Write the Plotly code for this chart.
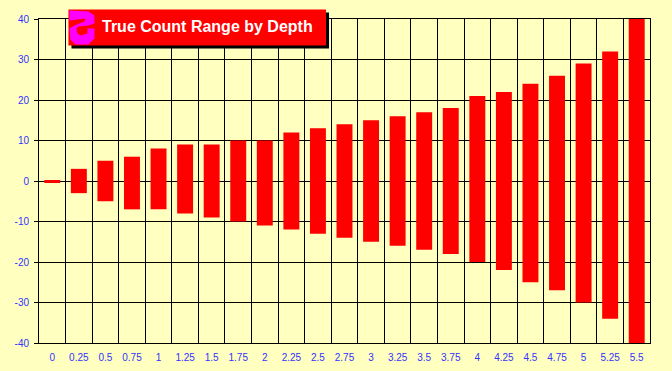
import plotly.graph_objects as go

depths = ["0","0.25","0.5","0.75","1","1.25","1.5","1.75","2","2.25","2.5","2.75","3","3.25","3.5","3.75","4","4.25","4.5","4.75","5","5.25","5.5"]
high = [0.25,3,5,6,8,9,9,10,10,12,13,14,15,16,17,18,21,22,24,26,29,32,40]
low = [-0.5,-3,-5,-7,-7,-8,-9,-10,-11,-12,-13,-14,-15,-16,-17,-18,-20,-22,-25,-27,-30,-34,-40]
y_ticks = [-40,-30,-20,-10,0,10,20,30,40]
y_labels = ["-40","-30","-20","-10","0","10","20","30","40"]
title_text = "True Count Range by Depth"

W, H = 672, 371
L, R, T, B = 38.5, 650.5, 18.5, 343.5
BG = "#FFFFC0"
TXT = "#3333FF"

def px(x): return (x - L) / (R - L)
def py(y): return (B - y) / (B - T)

fig = go.Figure(go.Bar(
    x=depths,
    y=[h - l for h, l in zip(high, low)],
    base=low,
    marker=dict(color="#FF0000", line=dict(width=0)),
    hoverinfo="skip",
))

shapes = [
    dict(type="rect", xref="paper", yref="paper", x0=px(71), x1=px(329), y0=py(12), y1=py(48),
         fillcolor="#000000", line_width=0, layer="above"),
    dict(type="rect", xref="paper", yref="paper", x0=px(68), x1=px(326), y0=py(9), y1=py(45),
         fillcolor="#FF0000", line_width=0, layer="above"),
]
icon = [(69,10),(88,11),(94,15),(94,23),(88,25),(78,26),(76,28),(77,33),(80,35),(87,33),(87,28),(94,28),
        (94,38),(88,44),(75,44),(70,39),(69,28),(74,25),(84,21),(85,18),(69,20)]
path = "M " + " L ".join(f"{px(a)} {py(b)}" for a, b in icon) + " Z"
shapes.append(dict(type="path", xref="paper", yref="paper", path=path, fillcolor="#FF00FF", line_width=0, layer="above"))

fig.update_layout(
    width=W, height=H,
    autosize=False,
    margin=dict(l=L, r=W - R, t=T, b=H - B, pad=0, autoexpand=False),
    paper_bgcolor=BG, plot_bgcolor=BG,
    bargap=0.4,
    showlegend=False,
    font=dict(family="Liberation Sans, Arial, sans-serif", size=10, color=TXT),
    xaxis=dict(type="category", tickson="boundaries", showgrid=True, gridcolor="#000000", gridwidth=1,
               ticks="", showline=True, linecolor="#000000", linewidth=1, mirror=True, layer="below traces",
               tickfont=dict(size=10, color=TXT), ticklen=0, tickangle=0, zeroline=False, ticklabelstandoff=5,
               automargin=False),
    yaxis=dict(range=[-40, 40], tickvals=y_ticks, ticktext=y_labels, showgrid=True, gridcolor="#000000", gridwidth=1,
               ticks="outside", ticklen=4, tickcolor="#000000", tickwidth=1,
               showline=True, linecolor="#000000", linewidth=1, mirror=True, layer="below traces",
               zeroline=True, zerolinecolor="#000000", zerolinewidth=1, ticklabelstandoff=3,
               tickfont=dict(size=10, color=TXT), automargin=False),
    shapes=shapes,
    annotations=[dict(text="<b>" + title_text + "</b>", xref="paper", yref="paper", x=px(207.5), y=py(26.5),
                      xanchor="center", yanchor="middle", showarrow=False,
                      font=dict(family="Liberation Sans, Arial, sans-serif", size=16, color="#FFFFFF"))],
)
fig.write_html("out.html", config={"displayModeBar": False},
               post_script="document.body.style.margin='0';document.body.style.background='#FFFFC0';document.body.style.overflow='hidden';")
